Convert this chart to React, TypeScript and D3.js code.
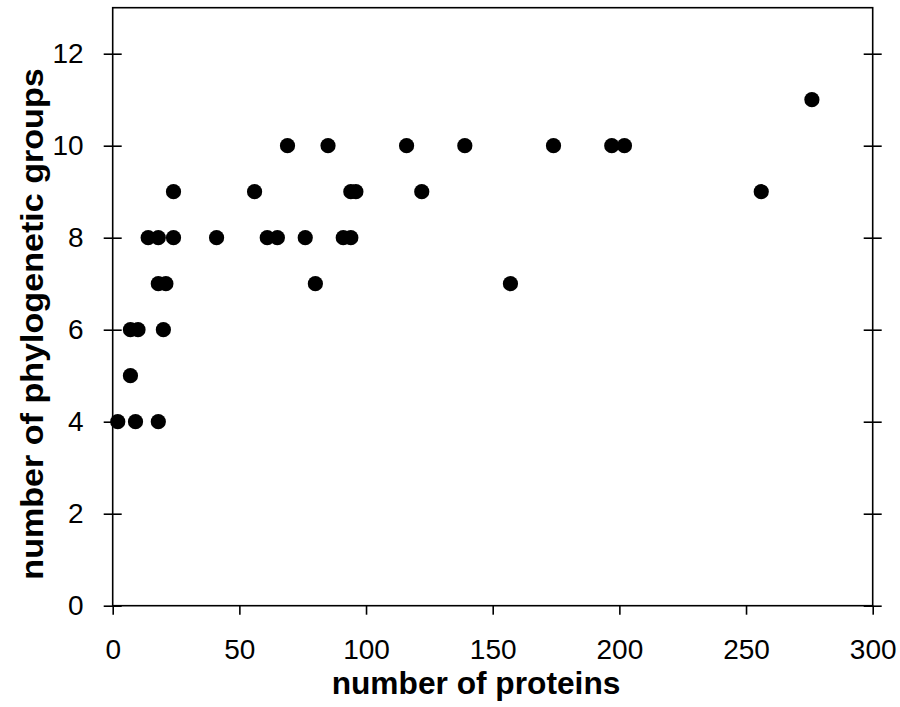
import { useEffect, useRef } from "react";
import * as d3 from "d3";

// number of proteins vs number of phylogenetic groups
const proteins = [2, 9, 18, 7, 7, 10, 20, 18, 21, 80, 157, 14, 18, 24, 41, 61, 65, 76, 91, 94, 24, 56, 94, 96, 122, 256, 69, 85, 116, 139, 174, 197, 202, 276];
const groups = [4, 4, 4, 5, 6, 6, 6, 7, 7, 7, 7, 8, 8, 8, 8, 8, 8, 8, 8, 8, 9, 9, 9, 9, 9, 9, 10, 10, 10, 10, 10, 10, 10, 11];

const xTicks = [0, 50, 100, 150, 200, 250, 300];
const yTicks = [0, 2, 4, 6, 8, 10, 12];

export default function App() {
    const svgRef = useRef<SVGSVGElement | null>(null);

    const wSVG = 900;
    const hSVG = 707;
    const box = { left: 112.7, right: 872.7, top: 7.7, bottom: 605.7 };

    useEffect(() => {
        const svg = d3.select(svgRef.current);
        svg.selectAll('*').remove();

        const xScale = d3.scaleLinear().domain([0, 300]).range([box.left, box.right]);
        const yScale = d3.scaleLinear().domain([0, 13]).range([box.bottom, box.top]);

        const font = 'Liberation Sans, Arial, sans-serif';

        // frame
        svg.append('rect')
            .attr('x', box.left)
            .attr('y', box.top)
            .attr('width', box.right - box.left)
            .attr('height', box.bottom - box.top)
            .attr('fill', 'none')
            .attr('stroke', 'black')
            .attr('stroke-width', 1.6);

        // x axis, ticks outside
        const gx = svg.append('g')
            .attr('transform', `translate(0,${box.bottom})`)
            .call(d3.axisBottom(xScale).tickValues(xTicks).tickSize(9).tickPadding(24).tickSizeOuter(0));
        gx.select('.domain').remove();
        gx.selectAll('line').attr('stroke-width', 1.6);
        gx.selectAll('text')
            .attr('font-family', font)
            .attr('font-size', 28)
            .attr('fill', 'black');

        // y axis left, ticks crossing
        const gy = svg.append('g')
            .attr('transform', `translate(${box.left},0)`)
            .call(d3.axisLeft(yScale).tickValues(yTicks).tickSize(9).tickPadding(20).tickSizeOuter(0));
        gy.select('.domain').remove();
        gy.selectAll('line').attr('x2', 9).attr('x1', -9).attr('stroke-width', 1.6);
        gy.selectAll('text')
            .attr('font-family', font)
            .attr('font-size', 28)
            .attr('fill', 'black');

        // y axis right, ticks crossing, no labels
        const gr = svg.append('g')
            .attr('transform', `translate(${box.right},0)`)
            .call(d3.axisRight(yScale).tickValues(yTicks).tickSize(9).tickFormat(() => '').tickSizeOuter(0));
        gr.select('.domain').remove();
        gr.selectAll('line').attr('x1', -9).attr('x2', 9).attr('stroke-width', 1.6);

        // points
        svg.append('g')
            .selectAll('circle')
            .data(proteins.map((p, i) => ({ p, g: groups[i] })))
            .join('circle')
            .attr('cx', d => xScale(d.p))
            .attr('cy', d => yScale(d.g))
            .attr('r', 7.6)
            .attr('fill', 'black');

        // axis titles
        svg.append('text')
            .attr('x', 476)
            .attr('y', 694)
            .attr('text-anchor', 'middle')
            .attr('font-family', font)
            .attr('font-weight', 'bold')
            .attr('font-size', 31.7)
            .text('number of proteins');
        svg.append('text')
            .attr('transform', `translate(43,324) rotate(-90) scale(1.1,1)`)
            .attr('text-anchor', 'middle')
            .attr('font-family', font)
            .attr('font-weight', 'bold')
            .attr('font-size', 31)
            .text('number of phylogenetic groups');
    }, []);

    return (
        <svg ref={svgRef} width={wSVG} height={hSVG}
            style={{ position: 'absolute', left: 0, top: 0, background: 'white' }} />
    );
}
